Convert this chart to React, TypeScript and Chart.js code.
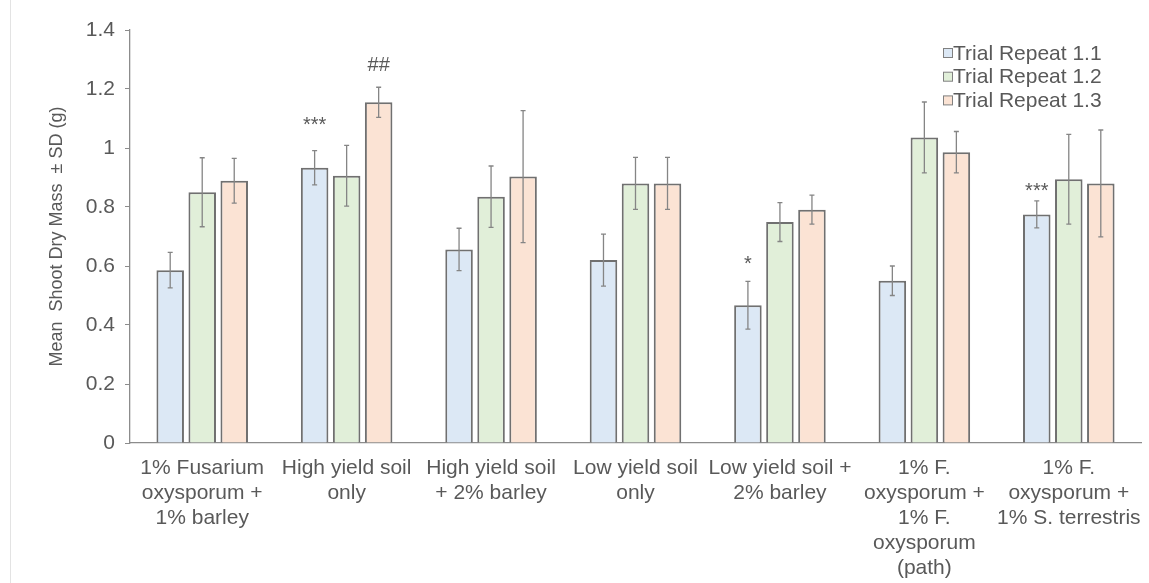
import React, { useEffect, useRef } from 'react';
import { Chart, registerables } from 'chart.js';

Chart.register(...registerables);

const categories: string[][] = [
  ['1% Fusarium', 'oxysporum +', '1% barley'],
  ['High yield soil', 'only'],
  ['High yield soil', '+ 2% barley'],
  ['Low yield soil', 'only'],
  ['Low yield soil +', '2% barley'],
  ['1% F.', 'oxysporum +', '1% F.', 'oxysporum', '(path)'],
  ['1% F.', 'oxysporum +', '1% S. terrestris'],
];

const seriesNames = ['Trial Repeat 1.1', 'Trial Repeat 1.2', 'Trial Repeat 1.3'];

const trial11 = [0.586, 0.933, 0.656, 0.62, 0.467, 0.55, 0.775];
const trial11Sd = [0.06, 0.058, 0.072, 0.088, 0.081, 0.05, 0.046];
const trial12 = [0.85, 0.906, 0.835, 0.88, 0.749, 1.036, 0.894];
const trial12Sd = [0.117, 0.103, 0.104, 0.088, 0.066, 0.12, 0.152];
const trial13 = [0.889, 1.155, 0.903, 0.88, 0.791, 0.986, 0.88];
const trial13Sd = [0.076, 0.051, 0.224, 0.088, 0.049, 0.07, 0.181];

const yTickValues = [0, 0.2, 0.4, 0.6, 0.8, 1, 1.2, 1.4];

// significance marks: series index, category index, label, value level (data units)
const sigSeries = [0, 2, 0, 0];
const sigCategory = [1, 1, 4, 6];
const sigText = ['***', '##', '*', '***'];
const sigLevel = [1.056, 1.261, 0.585, 0.833];

const fills = ['#dce8f5', '#e1efd9', '#fbe3d4'];
const BORDER = '#707070';
const TEXT = '#595959';
const FONT = "'Liberation Sans', Arial, sans-serif";

export default function App() {
  const ref = useRef<HTMLCanvasElement | null>(null);

  useEffect(() => {
    if (!ref.current) return;
    const values = [trial11, trial12, trial13];
    const sds = [trial11Sd, trial12Sd, trial13Sd];

    const errorBars = {
      id: 'errorBars',
      afterDatasetsDraw(chart: any) {
        const ctx = chart.ctx;
        const y = chart.scales.y;
        ctx.save();
        ctx.strokeStyle = '#858585';
        ctx.lineWidth = 1.3;
        values.forEach((vals, si) => {
          const meta = chart.getDatasetMeta(si);
          meta.data.forEach((el: any, i: number) => {
            const x = el.x;
            const top = y.getPixelForValue(vals[i] + sds[si][i]);
            const bot = y.getPixelForValue(vals[i] - sds[si][i]);
            ctx.beginPath();
            ctx.moveTo(x, top);
            ctx.lineTo(x, bot);
            ctx.moveTo(x - 2.5, top);
            ctx.lineTo(x + 2.5, top);
            ctx.moveTo(x - 2.5, bot);
            ctx.lineTo(x + 2.5, bot);
            ctx.stroke();
          });
        });
        // significance labels
        ctx.fillStyle = TEXT;
        ctx.font = `20px ${FONT}`;
        ctx.textAlign = 'center';
        ctx.textBaseline = 'alphabetic';
        sigText.forEach((t, k) => {
          const el = chart.getDatasetMeta(sigSeries[k]).data[sigCategory[k]];
          ctx.fillText(t, el.x, y.getPixelForValue(sigLevel[k]));
        });
        ctx.restore();
      },
    };

    const legendPlugin = {
      id: 'customLegend',
      afterDraw(chart: any) {
        const ctx = chart.ctx;
        ctx.save();
        ctx.font = `21px ${FONT}`;
        ctx.textBaseline = 'middle';
        ctx.textAlign = 'left';
        seriesNames.forEach((name, i) => {
          const cy = 53 + i * 23.7;
          ctx.fillStyle = fills[i];
          ctx.fillRect(943.5, cy - 4.5, 9, 9);
          ctx.strokeStyle = '#808080';
          ctx.lineWidth = 1;
          ctx.strokeRect(943.5, cy - 4.5, 9, 9);
          ctx.fillStyle = TEXT;
          ctx.fillText(name, 953, cy + 1);
        });
        ctx.restore();
      },
    };

    const chart = new Chart(ref.current, {
      type: 'bar',
      data: {
        labels: categories,
        datasets: seriesNames.map((name, i) => ({
          label: name,
          data: values[i],
          backgroundColor: fills[i],
          borderColor: BORDER,
          borderWidth: 2,
          borderSkipped: 'bottom',
          barPercentage: 0.86,
          categoryPercentage: 0.665,
        })),
      },
      options: {
        animation: false,
        responsive: true,
        maintainAspectRatio: false,
        layout: { padding: { left: 42, top: 30, right: 8, bottom: 0 } },
        plugins: {
          legend: { display: false },
          tooltip: { enabled: false },
        },
        scales: {
          x: {
            grid: { display: false },
            border: { display: true, color: '#8c8c8c', width: 1.3 },
            ticks: {
              color: TEXT,
              font: { family: FONT, size: 21, lineHeight: 1.19 },
              maxRotation: 0,
              autoSkip: false,
              padding: 5,
            },
            afterFit(scale: any) {
              scale.height = 140;
            },
          },
          y: {
            min: 0,
            max: 1.4,
            afterBuildTicks(scale: any) {
              scale.ticks = yTickValues.map((v) => ({ value: v }));
            },
            grid: {
              display: true,
              drawOnChartArea: false,
              drawTicks: true,
              tickLength: 5,
              color: '#8c8c8c',
            },
            border: { display: true, color: '#8c8c8c', width: 1.3 },
            ticks: {
              color: TEXT,
              font: { family: FONT, size: 21 },
              padding: 10,
              callback: (v: any) => String(Math.round(Number(v) * 10) / 10),
            },
            title: {
              display: true,
              text: 'Mean  Shoot Dry Mass  ± SD (g)',
              color: TEXT,
              font: { family: FONT, size: 18 },
              padding: { top: 4, bottom: 4 },
            },
            afterFit(scale: any) {
              scale.width = 88;
            },
          },
        },
      },
      plugins: [errorBars, legendPlugin],
    });
    return () => chart.destroy();
  }, []);

  return (
    <div style={{ position: 'fixed', left: 0, top: 0, width: 1149, height: 583, background: '#fff' }}>
      <div style={{ position: 'absolute', left: 10, top: 0, width: 1, height: 583, background: '#e3e3e3' }} />
      <canvas ref={ref} />
    </div>
  );
}
